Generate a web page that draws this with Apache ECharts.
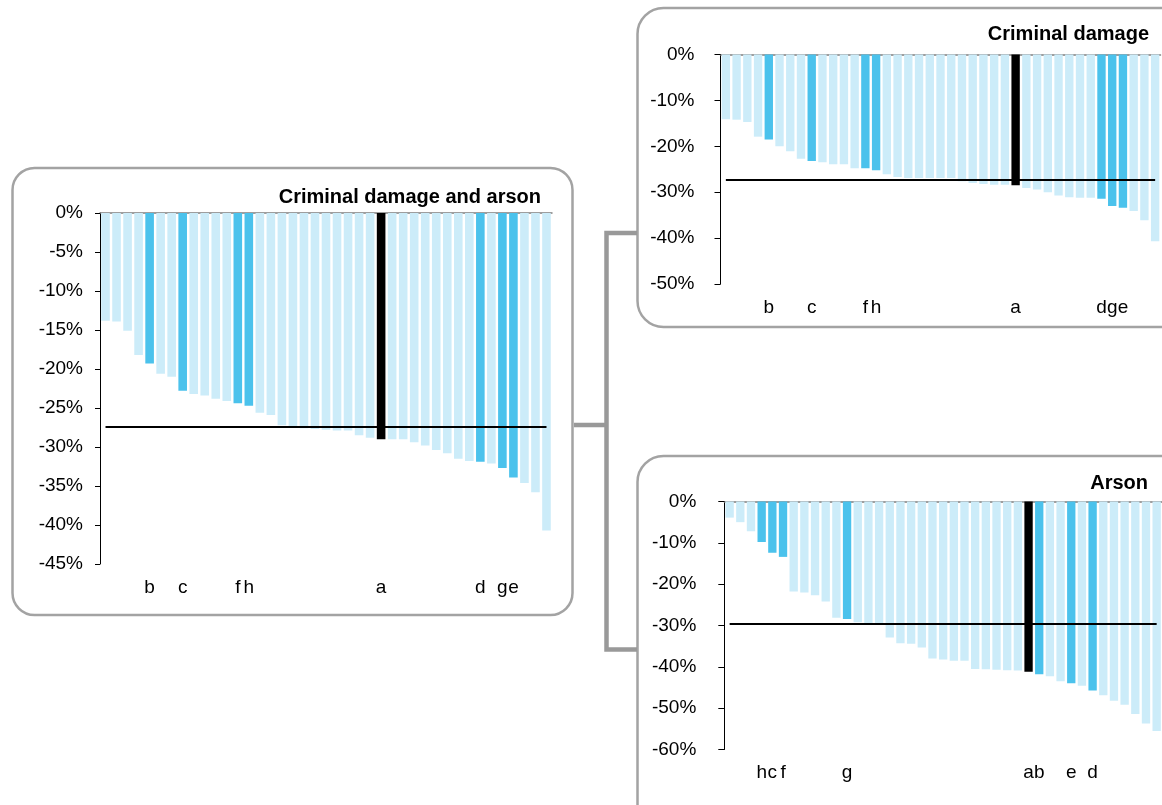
<!DOCTYPE html>
<html>
<head>
<meta charset="utf-8">
<script src="https://cdn.jsdelivr.net/npm/echarts@6/dist/echarts.min.js"></script>
<style>
  html, body { margin: 0; padding: 0; background: #fff; }
  #chart { width: 1162px; height: 805px; }
</style>
</head>
<body>
<div id="chart"></div>
<script>
// ---- Data ----
// Criminal damage and arson (left panel)
const labelsCDA = ['', '', '', '', 'b', '', '', 'c', '', '', '', '', 'f', 'h', '', '', '', '', '', '', '', '', '', '', '', 'a', '', '', '', '', '', '', '', '', 'd', '', 'g', 'e', '', '', ''];
const valuesCDA = [-13.8, -13.9, -15.1, -18.2, -19.3, -20.6, -21.0, -22.8, -23.2, -23.4,
                   -23.8, -24.1, -24.4, -24.7, -25.6, -25.9, -27.2, -27.3, -27.6, -27.7,
                   -27.8, -27.9, -27.9, -28.5, -28.8, -29.0, -29.0, -29.0, -29.4, -29.8,
                   -30.4, -30.8, -31.5, -31.8, -31.9, -32.1, -32.7, -33.9, -34.6, -35.8,
                   -40.7];
const avgCDA = -27.4;

// Criminal damage (top right panel)
const labelsCD = ['', '', '', '', 'b', '', '', '', 'c', '', '', '', '', 'f', 'h', '', '', '', '', '', '', '', '', '', '', '', '', 'a', '', '', '', '', '', '', '', 'd', 'g', 'e', '', '', ''];
const valuesCD = [-14.1, -14.2, -14.7, -17.9, -18.5, -20.0, -21.1, -22.7, -23.2, -23.5,
                  -23.9, -23.9, -24.8, -24.8, -25.2, -26.1, -26.7, -26.9, -26.9, -26.9,
                  -26.9, -26.9, -27.6, -28.0, -28.2, -28.4, -28.4, -28.5, -29.1, -29.4,
                  -30.0, -30.7, -31.1, -31.2, -31.2, -31.4, -33.0, -33.4, -34.1, -36.1,
                  -40.7];
const avgCD = -27.2;

// Arson (bottom right panel)
const labelsAR = ['', '', '', 'h', 'c', 'f', '', '', '', '', '', 'g', '', '', '', '', '', '', '', '', '', '', '', '', '', '', '', '', 'a', 'b', '', '', 'e', '', 'd', '', '', '', '', '', ''];
const valuesAR = [-3.9, -5.0, -7.2, -9.8, -12.4, -13.4, -21.8, -22.0, -22.7, -24.2,
                  -28.1, -28.4, -29.2, -29.4, -29.5, -32.9, -34.3, -34.4, -35.3, -38.0,
                  -38.2, -38.5, -38.5, -40.5, -40.6, -40.7, -40.8, -40.9, -41.2, -41.8,
                  -42.3, -43.5, -44.0, -44.6, -45.7, -46.9, -48.2, -49.2, -51.4, -53.7,
                  -55.5];
const avgAR = -29.6;

// ---- Styles ----
const FONT = '"Liberation Sans", Arial, sans-serif';
const LIGHT = '#CCECF9';
const DARK = '#4BC2EC';
const BLACK = '#000000';
const BORDER = '#a3a3a3';

function colorFor(l) {
  if (l === 'a') return BLACK;
  if (l) return DARK;
  return LIGHT;
}

const panels = [
  { labels: labelsCDA, values: valuesCDA, avg: avgCDA, min: -45, interval: 5,
    grid: { left: 100, top: 213, width: 452, height: 351 }, yMargin: 17, tick: 5 },
  { labels: labelsCD, values: valuesCD, avg: avgCD, min: -50, interval: 10,
    grid: { left: 720.5, top: 54.5, width: 440, height: 229.5 }, yMargin: 26, tick: 6 },
  { labels: labelsAR, values: valuesAR, avg: avgAR, min: -60, interval: 10,
    grid: { left: 724.3, top: 501.5, width: 441.8, height: 248 }, yMargin: 28, tick: 6 }
];

const grids = [], xAxes = [], yAxes = [], series = [];
panels.forEach((p, k) => {
  const cats = p.labels.map((_, i) => String(i));
  grids.push(Object.assign({ containLabel: false }, p.grid));
  xAxes.push({
    gridIndex: k, type: 'category', position: 'top', data: cats,
    axisLine: { show: true, onZero: false, lineStyle: { color: '#7f7f7f', width: 1.5 } },
    axisTick: { show: false }, axisLabel: { show: false }, splitLine: { show: false }
  });
  xAxes.push({
    gridIndex: k, type: 'category', position: 'bottom', data: cats,
    axisLine: { show: false, onZero: false }, axisTick: { show: false }, splitLine: { show: false },
    axisLabel: {
      show: true, interval: 0, hideOverlap: false, margin: 14,
      fontSize: 19, fontFamily: FONT, color: '#000',
      formatter: (v, i) => p.labels[i]
    }
  });
  yAxes.push({
    gridIndex: k, type: 'value', position: 'left', min: p.min, max: 0, interval: p.interval,
    axisLine: { show: true, lineStyle: { color: '#000', width: 1 } },
    axisTick: { show: true, length: p.tick, lineStyle: { color: '#000', width: 1 } },
    splitLine: { show: false },
    axisLabel: { formatter: '{value}%', fontSize: 19, fontFamily: FONT, color: '#000', margin: p.yMargin }
  });
  series.push({
    type: 'bar', xAxisIndex: 2 * k + 1, yAxisIndex: k,
    barCategoryGap: '22%',
    data: p.values.map((v, i) => ({ value: v, itemStyle: { color: colorFor(p.labels[i]) } })),
    markLine: {
      silent: true, symbol: ['none', 'none'], label: { show: false },
      lineStyle: { color: '#000', width: 2, type: 'solid' },
      data: [[{ xAxis: 0, yAxis: p.avg }, { xAxis: p.values.length - 1, yAxis: p.avg }]]
    }
  });
});

const graphics = [
  // panel frames
  { type: 'rect', z: -10, shape: { x: 12.5, y: 168, width: 560, height: 447, r: 22 },
    style: { fill: '#fff', stroke: BORDER, lineWidth: 2.5 } },
  { type: 'rect', z: -10, shape: { x: 637.5, y: 8, width: 560, height: 319, r: 26 },
    style: { fill: '#fff', stroke: BORDER, lineWidth: 2.5 } },
  { type: 'rect', z: -10, shape: { x: 637.5, y: 456, width: 560, height: 400, r: 26 },
    style: { fill: '#fff', stroke: BORDER, lineWidth: 2.5 } },
  // connectors
  { type: 'polyline', z: -5, shape: { points: [[574, 425], [606.5, 425]] },
    style: { stroke: '#999', lineWidth: 4.5, fill: null } },
  { type: 'polyline', z: -5, shape: { points: [[637, 233], [606.5, 233], [606.5, 649.5], [637, 649.5]] },
    style: { stroke: '#999', lineWidth: 4.5, fill: null, lineJoin: 'miter' } },
  // titles
  { type: 'text', x: 541, y: 197, style: { text: 'Criminal damage and arson', font: 'bold 20px ' + FONT,
    fill: '#000', textAlign: 'right', textVerticalAlign: 'middle', align: 'right', verticalAlign: 'middle' } },
  { type: 'text', x: 1149, y: 34, style: { text: 'Criminal damage', font: 'bold 20px ' + FONT,
    fill: '#000', textAlign: 'right', textVerticalAlign: 'middle', align: 'right', verticalAlign: 'middle' } },
  { type: 'text', x: 1148, y: 483, style: { text: 'Arson', font: 'bold 20px ' + FONT,
    fill: '#000', textAlign: 'right', textVerticalAlign: 'middle', align: 'right', verticalAlign: 'middle' } }
];

const chart = echarts.init(document.getElementById('chart'), null, { renderer: 'canvas' });
chart.setOption({
  animation: false,
  backgroundColor: '#fff',
  graphic: graphics,
  grid: grids,
  xAxis: xAxes,
  yAxis: yAxes,
  series: series
});
</script>
</body>
</html>
